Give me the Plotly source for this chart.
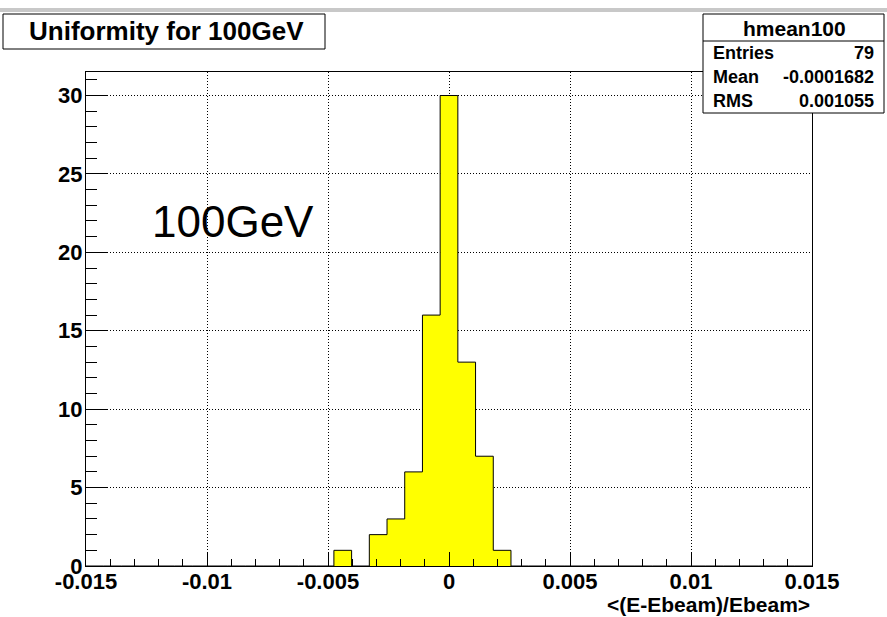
import numpy as np
import plotly.graph_objects as go

# ---- data ----
XMIN, XMAX, NBINS = -0.015, 0.015, 41
bin_index = [-6, -5, -4, -3, -2, -1, 0, 1, 2, 3]          # bin offset from the central bin
bin_counts = [1, 0, 2, 3, 6, 16, 30, 13, 7, 1]
x_tick_vals = [-0.015, -0.01, -0.005, 0, 0.005, 0.01, 0.015]
x_tick_text = ["-0.015", "-0.01", "-0.005", "0", "0.005", "0.01", "0.015"]
y_tick_vals = [0, 5, 10, 15, 20, 25, 30]
y_tick_text = ["0", "5", "10", "15", "20", "25", "30"]
title_text = "Uniformity for 100GeV"
stats_name = "hmean100"
stats_rows = [("Entries", "79"), ("Mean", "-0.0001682"), ("RMS", "0.001055")]
x_title = "<(E-Ebeam)/Ebeam>"
label_text = "100GeV"
YMAX = 31.5

# build histogram step outline
edges = np.linspace(XMIN, XMAX, NBINS + 1)
counts = np.zeros(NBINS)
center = NBINS // 2
for k, c in zip(bin_index, bin_counts):
    counts[center + k] = c
xs = list(edges)
ys = list(counts) + [counts[-1]]

W, H = 887, 617
L, R, T, B = 86, 75, 72, 51
PW, PH = W - L - R, H - T - B

def px(x):
    return (x - L) / PW

def py(y):
    return (H - B - y) / PH

fig = go.Figure()
fig.add_trace(go.Scatter(
    x=xs, y=ys, mode="lines", line_shape="hv",
    line=dict(color="black", width=1),
    fill="tozeroy", fillcolor="#ffff00",
    hoverinfo="skip", showlegend=False,
))

axis_common = dict(
    showline=True, linecolor="black", linewidth=1, mirror=True,
    ticks="inside", tickcolor="black", tickwidth=1,
    showgrid=True, gridcolor="black", gridwidth=1, griddash="1px,2px",
    zeroline=False, automargin=False, tickangle=0,
    tickfont=dict(family="Liberation Sans, Arial, sans-serif", size=22, color="black", weight="bold"),
)

fig.update_xaxes(
    range=[XMIN, XMAX], tickmode="array", tickvals=x_tick_vals, ticktext=x_tick_text, ticklen=14,
    ticklabelstandoff=-4,
    minor=dict(dtick=0.001, tick0=XMIN, ticks="inside", ticklen=7, tickcolor="black", showgrid=False),
    **axis_common,
)
fig.update_yaxes(
    range=[0, YMAX], tickmode="array", tickvals=y_tick_vals, ticktext=y_tick_text, ticklen=22,
    ticklabelstandoff=-2,
    minor=dict(dtick=1, tick0=0, ticks="inside", ticklen=11, tickcolor="black", showgrid=False),
    **axis_common,
)

shapes = [
    # top gray band
    dict(type="rect", xref="paper", yref="paper", x0=px(0), x1=px(W), y0=py(12), y1=py(8),
         fillcolor="#c8c8c8", line=dict(width=0), layer="below"),
    # title box
    dict(type="rect", xref="paper", yref="paper", x0=px(3), x1=px(325), y0=py(49), y1=py(14),
         fillcolor="white", line=dict(color="black", width=1)),
    # stats box
    dict(type="rect", xref="paper", yref="paper", x0=px(703), x1=px(884), y0=py(113), y1=py(14),
         fillcolor="white", line=dict(color="black", width=1)),
    dict(type="line", xref="paper", yref="paper", x0=px(703), x1=px(884), y0=py(41), y1=py(41),
         line=dict(color="black", width=1)),
]

bold = dict(family="Liberation Sans, Arial, sans-serif", color="black", weight="bold")
annotations = [
    dict(text=title_text, xref="paper", yref="paper", x=px(166), y=py(31), xanchor="center", yanchor="middle",
         showarrow=False, font=dict(size=26, **bold)),
    dict(text=stats_name, xref="paper", yref="paper", x=px(794), y=py(29), xanchor="center", yanchor="middle",
         showarrow=False, font=dict(size=21, **bold)),
    dict(text=x_title, xref="paper", yref="paper", x=1, y=py(604), xanchor="right", yanchor="middle",
         showarrow=False, font=dict(size=21, **bold)),
    dict(text=label_text, xref="paper", yref="paper", x=px(150), y=py(221), xanchor="left", yanchor="middle",
         showarrow=False, font=dict(family="Liberation Sans, Arial, sans-serif", size=44, color="black")),
]
for i, (name, val) in enumerate(stats_rows):
    yy = 53 + 24 * i
    annotations.append(dict(text=name, xref="paper", yref="paper", x=px(711), y=py(yy), xanchor="left",
                            yanchor="middle", showarrow=False, font=dict(size=18, **bold)))
    annotations.append(dict(text=val, xref="paper", yref="paper", x=px(876), y=py(yy), xanchor="right",
                            yanchor="middle", showarrow=False, font=dict(size=18, **bold)))

fig.update_layout(
    width=W, height=H, autosize=False,
    margin=dict(l=L, r=R, t=T, b=B, pad=0),
    paper_bgcolor="white", plot_bgcolor="white",
    shapes=shapes, annotations=annotations,
    showlegend=False,
)

fig.write_html("out.html")
